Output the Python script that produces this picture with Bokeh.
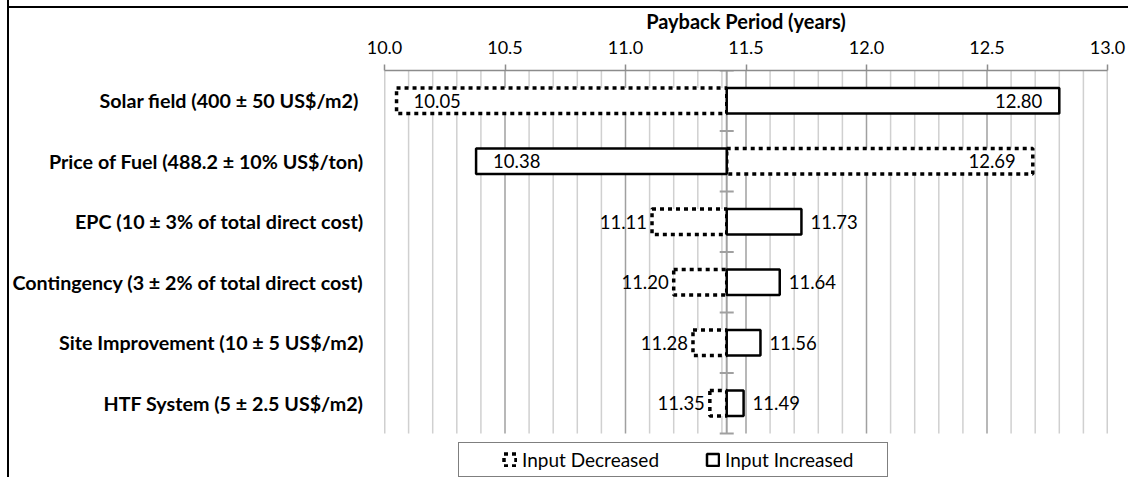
import numpy as np
from bokeh.plotting import figure
from bokeh.models import (Range1d, FixedTicker, Legend, LegendItem,
                          ColumnDataSource, NumeralTickFormatter)
from bokeh.embed import file_html
from bokeh.resources import INLINE
from bokeh.core.properties import value

# ---------------- data ----------------
categories = [
    "Solar field  (400 ± 50 US$/m2)",
    "Price of Fuel (488.2 ± 10% US$/ton)",
    "EPC (10 ± 3% of total direct cost)",
    "Contingency (3 ± 2% of total direct cost)",
    "Site Improvement (10 ± 5 US$/m2)",
    "HTF System (5 ± 2.5 US$/m2)",
]
base_value = 11.42
input_decreased = [10.05, 12.69, 11.11, 11.20, 11.28, 11.35]
input_increased = [12.80, 10.38, 11.73, 11.64, 11.56, 11.49]
x_major_ticks = [10.0, 10.5, 11.0, 11.5, 12.0, 12.5, 13.0]
x_title = "Payback Period (years)"
legend_labels = ["Input Decreased", "Input Increased"]

FONT = "Lato"
n = len(categories)
ypos = [n - 1 - i for i in range(n)]          # first category on top
y_lo, y_hi = -0.5, n - 0.5                     # extent of the category band

# layout: category band 363px tall, room left under it for the legend
FIG_W, FIG_H, TOP_PX, BAND_PX = 1128, 477, 70, 363
LEGEND_PX = FIG_H - TOP_PX - BAND_PX
y_start = y_lo - LEGEND_PX / (BAND_PX / n)

p = figure(
    width=FIG_W, height=FIG_H,
    x_range=Range1d(x_major_ticks[0], x_major_ticks[-1]),
    y_range=Range1d(y_start, y_hi),
    x_axis_location="above",
    output_backend="svg", toolbar_location=None,
    min_border_left=384, min_border_right=FIG_W - 1107,
    min_border_top=TOP_PX, min_border_bottom=0,
)
p.outline_line_color = None
p.background_fill_color = None
p.border_fill_color = None
# chart-area frame (top and left edges), painted behind the transparent canvas
p.styles = {
    "background-color": "white",
    "background-image": ("linear-gradient(to right, white 7px, black 7px, black 9px, transparent 9px), "
                         "linear-gradient(to bottom, white 6px, black 6px, black 8px, transparent 8px)"),
    "background-repeat": "no-repeat",
    "overflow": "hidden",
}
p.xgrid.grid_line_color = None
p.ygrid.grid_line_color = None

# vertical grid lines limited to the category band
minor = [round(v, 1) for v in np.arange(x_major_ticks[0], x_major_ticks[-1] + 0.001, 0.1)]
minor_only = [v for v in minor if v not in x_major_ticks]
p.segment(x0=minor_only, y0=[y_lo] * len(minor_only), x1=minor_only, y1=[y_hi] * len(minor_only),
          line_color="#d0d0d0", line_width=1.5)
p.segment(x0=x_major_ticks, y0=[y_lo] * len(x_major_ticks), x1=x_major_ticks,
          y1=[y_hi] * len(x_major_ticks), line_color="#a0a0a0", line_width=1.5)

# x axis (top)
xa = p.xaxis[0]
xa.ticker = FixedTicker(ticks=x_major_ticks)
xa.formatter = NumeralTickFormatter(format="0.0")
xa.axis_label = x_title
xa.axis_label_text_font = FONT
xa.axis_label_text_font_style = "bold"
xa.axis_label_text_font_size = "20px"
xa.axis_label_text_color = "black"
xa.axis_label_standoff = 5
xa.major_label_text_font = FONT
xa.major_label_text_font_size = "18px"
xa.major_label_text_color = "black"
xa.major_label_standoff = 11
xa.axis_line_color = "#8c8c8c"
xa.axis_line_width = 1.5
xa.major_tick_line_color = "#8c8c8c"
xa.major_tick_line_width = 1.5
xa.major_tick_out = 6
xa.major_tick_in = 0
xa.minor_tick_line_color = None

# y axis (categories)
ya = p.yaxis[0]
ya.ticker = FixedTicker(ticks=ypos)
ya.major_label_overrides = {pos: cat for pos, cat in zip(ypos, categories)}
ya.axis_line_color = None
ya.major_tick_line_color = None
ya.minor_tick_line_color = None
ya.major_label_text_font = FONT
ya.major_label_text_font_style = "bold"
ya.major_label_text_font_size = "19.7px"
ya.major_label_text_color = "black"
ya.major_label_standoff = 15

# base line and category ticks
p.segment(x0=[base_value], y0=[y_lo], x1=[base_value], y1=[y_hi],
          line_color="#a0a0a0", line_width=2)
bounds = [k - 0.5 for k in range(n + 1)]
p.scatter(x=[base_value] * len(bounds), y=bounds, marker="dash", size=14,
          line_color="#a0a0a0", line_width=2)

# bars
def bar_source(vals):
    left = [min(base_value, v) for v in vals]
    right = [max(base_value, v) for v in vals]
    return ColumnDataSource(dict(y=ypos, left=left, right=right, val=vals))

BAR_H = 0.42
r_dec = p.hbar(y="y", left="left", right="right", height=BAR_H, source=bar_source(input_decreased),
               fill_color="white", line_color="black", line_width=3.5, line_dash="4 4")
r_inc = p.hbar(y="y", left="left", right="right", height=BAR_H, source=bar_source(input_increased),
               fill_color="white", line_color="black", line_width=2.5)

# value labels
def label_source(vals):
    align, off = [], []
    for v in vals:
        long_bar = abs(v - base_value) > 0.5
        if v < base_value:
            align.append("left" if long_bar else "right")
            off.append(17 if long_bar else -5)
        else:
            align.append("right" if long_bar else "left")
            off.append(-17 if long_bar else 9)
    return ColumnDataSource(dict(y=ypos, x=vals, txt=[f"{v:.2f}" for v in vals],
                                 align=align, off=off))

for vals in (input_decreased, input_increased):
    p.text(x="x", y="y", text="txt", source=label_source(vals), text_align="align",
           x_offset="off", text_baseline="middle", text_font=value(FONT),
           text_font_size="18.5px", text_color="black")

legend = Legend(items=[LegendItem(label=legend_labels[0], renderers=[r_dec]),
                       LegendItem(label=legend_labels[1], renderers=[r_inc])],
                orientation="horizontal", location=(74, 0),
                title=" ", title_location="left", title_text_font_size="1px",
                title_standoff=37,
                border_line_color="black", border_line_width=1.5,
                label_text_font=FONT, label_text_font_size="19px",
                label_text_color="black", label_width=157,
                glyph_width=15, glyph_height=15, label_standoff=5,
                spacing=26, padding=5, margin=0,
                background_fill_color="white", background_fill_alpha=1)
p.add_layout(legend, "center")

open("out.html", "w").write(file_html(p, INLINE))
